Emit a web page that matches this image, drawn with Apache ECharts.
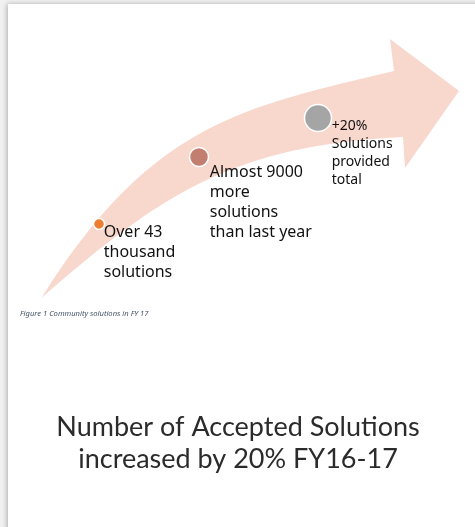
<!DOCTYPE html>
<html>
<head>
<meta charset="utf-8">
<script src="https://cdn.jsdelivr.net/npm/echarts@6/dist/echarts.min.js"></script>
<style>
  html, body { margin: 0; padding: 0; background: #fff; }
  #chart { width: 475px; height: 527px; }
</style>
</head>
<body>
<div id="chart"></div>
<script>
// milestones on the arrow (axis units match the figure area)
const pointX = [99, 199, 318];
const pointY = [224, 157, 118];
const pointSize = [11, 19, 27];
const pointText = [
  'Over 43\nthousand\nsolutions',
  'Almost 9000\nmore\nsolutions\nthan last year',
  '+20%\nSolutions\nprovided\ntotal'
];

// arrow outline: each edge is one cubic curve (start, ctrl1, ctrl2, end)
const arrowUpper = [[41.5, 298], [151.5, 122], [244, 107], [394, 71]];
const arrowHead = [[390, 39], [459, 91], [405, 168]];
const arrowLower = [[403, 137], [233, 145.5], [161.5, 193.6], [41.5, 298]];

const caption = 'Figure 1 Community solutions in FY 17';
const headline = 'Number of Accepted Solutions\nincreased by 20% FY16-17';

const pointColors = ['#ED7D31', '#C27F70', '#A5A5A5'];
const labelPos = [[11, 5], [21, 16], [28, 13]];
const labelSize = [16, 16, 14];
const labelLh = [20, 20, 18];

function cubic(pts) {
  return ' C' + pts.slice(1).map(p => p[0] + ',' + p[1]).join(' ');
}

function renderArrow(params, api) {
  const up = arrowUpper.map(p => api.coord(p));
  const head = arrowHead.map(p => api.coord(p));
  const low = arrowLower.map(p => api.coord(p));
  let d = 'M' + up[0][0] + ',' + up[0][1] + cubic(up);
  head.forEach(p => { d += ' L' + p[0] + ',' + p[1]; });
  d += ' L' + low[0][0] + ',' + low[0][1] + cubic(low) + ' Z';
  return {
    type: 'path',
    shape: { pathData: d },
    style: { fill: '#F8D8CD', stroke: null }
  };
}

const chart = echarts.init(document.getElementById('chart'));

const option = {
  backgroundColor: '#f1f1f1',
  animation: false,
  graphic: [
    {
      type: 'rect',
      z: -10,
      shape: { x: 8, y: 4, width: 600, height: 600 },
      style: { fill: '#fff', shadowBlur: 5, shadowColor: 'rgba(0,0,0,0.28)', shadowOffsetX: -1 }
    },
    {
      type: 'text',
      left: 20,
      top: 310,
      style: {
        text: caption,
        fontFamily: 'Noto Sans',
        fontStyle: 'italic',
        fontSize: 7.6,
        fill: '#44546A'
      }
    },
    {
      type: 'text',
      x: 238,
      y: 443,
      style: {
        text: headline,
        fontFamily: 'Lato',
        fontSize: 27,
        lineHeight: 32,
        fill: '#2b2b2b',
        align: 'center',
        verticalAlign: 'middle'
      }
    }
  ],
  grid: { left: 0, right: 0, top: 0, bottom: 0 },
  xAxis: { type: 'value', min: 0, max: 475, show: false },
  yAxis: { type: 'value', min: 0, max: 527, inverse: true, show: false },
  series: [
    {
      type: 'custom',
      renderItem: renderArrow,
      data: [[0, 0]],
      clip: false,
      silent: true,
      z: 1
    },
    {
      type: 'scatter',
      z: 3,
      data: pointX.map((x, i) => ({
        value: [x, pointY[i]],
        symbolSize: pointSize[i],
        itemStyle: { color: pointColors[i] },
        label: {
          position: labelPos[i],
          fontSize: labelSize[i],
          lineHeight: labelLh[i]
        }
      })),
      itemStyle: { borderColor: '#fff', borderWidth: 1.5, opacity: 1 },
      label: {
        show: true,
        formatter: p => pointText[p.dataIndex],
        fontFamily: 'Noto Sans',
        color: '#111',
        align: 'left',
        verticalAlign: 'top'
      }
    }
  ]
};

chart.setOption(option);
</script>
</body>
</html>
